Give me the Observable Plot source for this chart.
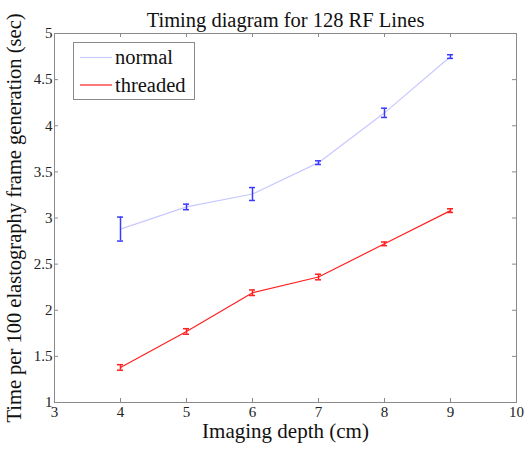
<!DOCTYPE html>
<html><head><meta charset="utf-8">
<script src="https://cdn.jsdelivr.net/npm/d3@7"></script>
<script src="https://cdn.jsdelivr.net/npm/@observablehq/plot@0.6"></script>
<style>body{margin:0;background:#fff} svg text{font-family:'Liberation Serif','Times New Roman',serif}</style>
</head><body><div id="chart"></div>
<script>
const depths = [4, 5, 6, 7, 8, 9];
const normalMean = [2.88, 3.12, 3.26, 3.60, 4.14, 4.75];
const normalErr  = [0.13, 0.03, 0.07, 0.02, 0.05, 0.02];
const threadedMean = [1.38, 1.77, 2.19, 2.36, 2.72, 3.08];
const threadedErr  = [0.03, 0.03, 0.03, 0.03, 0.02, 0.02];
const xTicks = [3, 4, 5, 6, 7, 8, 9, 10];
const yTicks = [1, 1.5, 2, 2.5, 3, 3.5, 4, 4.5, 5];
const seriesNames = ["normal", "threaded"];
const lineColors = ["#c8c8ff", "#ff2020"];
const barColors = ["#3a3aff", "#ff2020"];

const rows = (mean, err, s) => depths.map((x, i) => ({x, y: mean[i], lo: mean[i] - err[i], hi: mean[i] + err[i], s}));
const normal = rows(normalMean, normalErr, 0);
const threaded = rows(threadedMean, threadedErr, 1);

const font = "'Liberation Serif', 'Times New Roman', serif";
const axisColor = "#8a8a8a";
const fmt = d => String(d);

function series(data, s) {
  return [
    Plot.line(data, {x: "x", y: "y", stroke: lineColors[s], strokeWidth: 1.2}),
    Plot.ruleX(data, {x: "x", y1: "lo", y2: "hi", stroke: barColors[s], strokeWidth: 1.5}),
    Plot.ruleY(data, {y: "lo", x1: "x", x2: "x", insetLeft: -3, insetRight: -3, stroke: barColors[s], strokeWidth: 1.5}),
    Plot.ruleY(data, {y: "hi", x1: "x", x2: "x", insetLeft: -3, insetRight: -3, stroke: barColors[s], strokeWidth: 1.5})
  ];
}

const chart = Plot.plot({
  width: 532, height: 450,
  marginTop: 33, marginBottom: 48, marginLeft: 54, marginRight: 16,
  style: {fontFamily: font, background: "#fff"},
  x: {domain: [3, 10], label: null},
  y: {domain: [1, 5], label: null},
  marks: [
    Plot.frame({stroke: axisColor}),
    Plot.tickX(xTicks, {x: d => d, insetTop: 365, stroke: axisColor}),
    Plot.tickX(xTicks, {x: d => d, insetBottom: 365, stroke: axisColor}),
    Plot.tickY(yTicks, {y: d => d, insetRight: 458, stroke: axisColor}),
    Plot.tickY(yTicks, {y: d => d, insetLeft: 458, stroke: axisColor}),
    Plot.axisX({ticks: xTicks, tickFormat: fmt, tickSize: 0, tickPadding: 4, fontSize: 15, fill: "#222", fontFamily: font}),
    Plot.axisY({ticks: yTicks, tickFormat: fmt, tickSize: 0, tickPadding: 2, fontSize: 15, fill: "#222", fontFamily: font}),
    ...series(normal, 0),
    ...series(threaded, 1),
    Plot.text(["Timing diagram for 128 RF Lines"], {frameAnchor: "top", dy: -21, fontSize: 20.5, fill: "#111", fontFamily: font}),
    Plot.text(["Imaging depth (cm)"], {frameAnchor: "bottom", dy: 35, fontSize: 21, fill: "#111", fontFamily: font}),
    Plot.text(["Time per 100 elastography frame generation (sec)"], {frameAnchor: "left", textAnchor: "middle", rotate: -90, dx: -40, fontSize: 20.5, fill: "#111", fontFamily: font})
  ]
});
document.getElementById("chart").appendChild(chart);

// legend
const svg = d3.select(chart);
const g = svg.append("g");
g.append("rect").attr("x", 73.5).attr("y", 42.5).attr("width", 121).attr("height", 57)
  .attr("fill", "#fff").attr("stroke", axisColor);
seriesNames.forEach((name, i) => {
  const yy = 57.5 + i * 27.5;
  g.append("line").attr("x1", 80).attr("x2", 112).attr("y1", yy).attr("y2", yy)
    .attr("stroke", lineColors[i]).attr("stroke-width", 1.2);
  g.append("text").attr("x", 115).attr("y", yy).attr("dy", "0.32em").attr("text-anchor", "start")
    .style("font-family", font).attr("font-size", 20.5).attr("fill", "#111").text(name);
});
</script>
</body></html>
